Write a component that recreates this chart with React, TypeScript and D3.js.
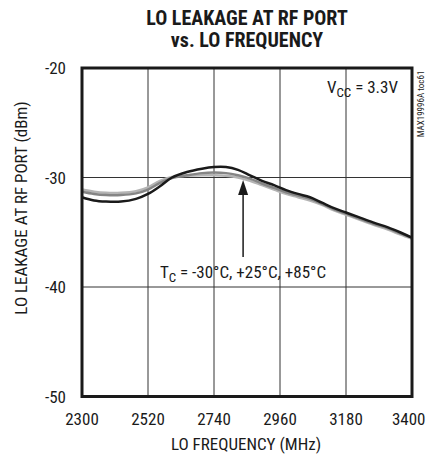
import * as d3 from "d3";

const freqs = [2300, 2340, 2380, 2430, 2480, 2520, 2560, 2600, 2650, 2700, 2740, 2780, 2820, 2860, 2900, 2940, 2980, 3020, 3060, 3100, 3140, 3180, 3220, 3270, 3320, 3360, 3400];

const leakM30 = [-31.8, -32.1, -32.2, -32.2, -31.95, -31.5, -30.8, -30.0, -29.5, -29.2, -29.05, -29.05, -29.3, -29.8, -30.3, -30.7, -31.15, -31.5, -31.8, -32.3, -32.8, -33.2, -33.6, -34.1, -34.55, -35.0, -35.5];
const leakP25 = [-31.3, -31.5, -31.6, -31.6, -31.45, -31.1, -30.5, -30.05, -29.8, -29.6, -29.55, -29.6, -29.8, -30.1, -30.55, -30.95, -31.35, -31.65, -31.95, -32.4, -32.9, -33.3, -33.7, -34.2, -34.65, -35.1, -35.5];
const leakP85 = [-31.1, -31.3, -31.4, -31.4, -31.25, -30.9, -30.3, -29.95, -29.85, -29.8, -29.8, -29.85, -30.0, -30.3, -30.7, -31.1, -31.5, -31.8, -32.1, -32.5, -33.0, -33.4, -33.8, -34.3, -34.75, -35.2, -35.6];

const xTicks = [2300, 2520, 2740, 2960, 3180, 3400];
const yTicks = [-20, -30, -40, -50];

const series = [
  { name: "+85C", values: leakP85, color: "#b4b4b4" },
  { name: "+25C", values: leakP25, color: "#858585" },
  { name: "-30C", values: leakM30, color: "#1a1a1a" },
];

const font = "'Liberation Sans Narrow', 'Arial Narrow', 'Roboto Condensed', sans-serif";

const App = () => {
  const left = 82;
  const right = 412;
  const top = 68;
  const bottom = 396.5;

  const x = d3.scaleLinear().domain([2300, 3400]).range([left, right]);
  const y = d3.scaleLinear().domain([-50, -20]).range([bottom, top]);

  const line = d3
    .line<number>()
    .x((_, i) => x(freqs[i]))
    .y((d) => y(d))
    .curve(d3.curveCatmullRom.alpha(0.5));

  const arrowX = x(2837);

  return (
    <svg width={426} height={454} style={{ position: "absolute", left: 0, top: 0 }} fontFamily={font} fill="#1a1a1a">
      <text x={247} y={25} textAnchor="middle" fontSize={20} fontWeight="bold">
        LO LEAKAGE AT RF PORT
      </text>
      <text x={247} y={47} textAnchor="middle" fontSize={20} fontWeight="bold">
        vs. LO FREQUENCY
      </text>

      {/* grid */}
      {xTicks.slice(1, -1).map((t) => (
        <line key={"gx" + t} x1={x(t)} x2={x(t)} y1={top} y2={bottom} stroke="#333" strokeWidth={1} />
      ))}
      {yTicks.slice(1, -1).map((t) => (
        <line key={"gy" + t} x1={left} x2={right} y1={y(t)} y2={y(t)} stroke="#333" strokeWidth={1} />
      ))}

      {series.map((s) => (
        <path key={s.name} d={line(s.values)!} fill="none" stroke={s.color} strokeWidth={2.5} />
      ))}

      <rect x={left} y={top} width={right - left} height={bottom - top} fill="none" stroke="#1a1a1a" strokeWidth={3} />

      {/* tick labels */}
      {yTicks.map((t) => (
        <text key={"yl" + t} x={66} y={y(t) + 6} textAnchor="end" fontSize={17}>
          {t}
        </text>
      ))}
      {xTicks.map((t, i) => {
        // last label is pushed against the right edge, like the original
        const last = i === xTicks.length - 1;
        return (
          <text key={"xl" + t} x={last ? 425.5 : x(t)} y={425} textAnchor={last ? "end" : "middle"} fontSize={17}>
            {t}
          </text>
        );
      })}

      <text x={246} y={450} textAnchor="middle" fontSize={17}>
        LO FREQUENCY (MHz)
      </text>
      <text transform="translate(27,208) rotate(-90)" textAnchor="middle" fontSize={17}>
        LO LEAKAGE AT RF PORT (dBm)
      </text>

      <text x={398} y={93} textAnchor="end" fontSize={17}>
        V<tspan fontSize={13} dy={4}>CC</tspan>
        <tspan dy={-4}> = 3.3V</tspan>
      </text>

      <text transform="translate(424,104) rotate(-90)" textAnchor="middle" fontSize={9}>
        MAX19996A toc61
      </text>

      {/* arrow */}
      <line x1={arrowX} x2={arrowX} y1={257} y2={192} stroke="#1a1a1a" strokeWidth={1.5} />
      <path d={`M${arrowX},180 L${arrowX - 5},195 L${arrowX + 5},195 Z`} fill="#1a1a1a" />
      <text x={243} y={278} textAnchor="middle" fontSize={17}>
        T<tspan fontSize={13} dy={4}>C</tspan>
        <tspan dy={-4}> = -30°C, +25°C, +85°C</tspan>
      </text>
    </svg>
  );
};

export default App;
